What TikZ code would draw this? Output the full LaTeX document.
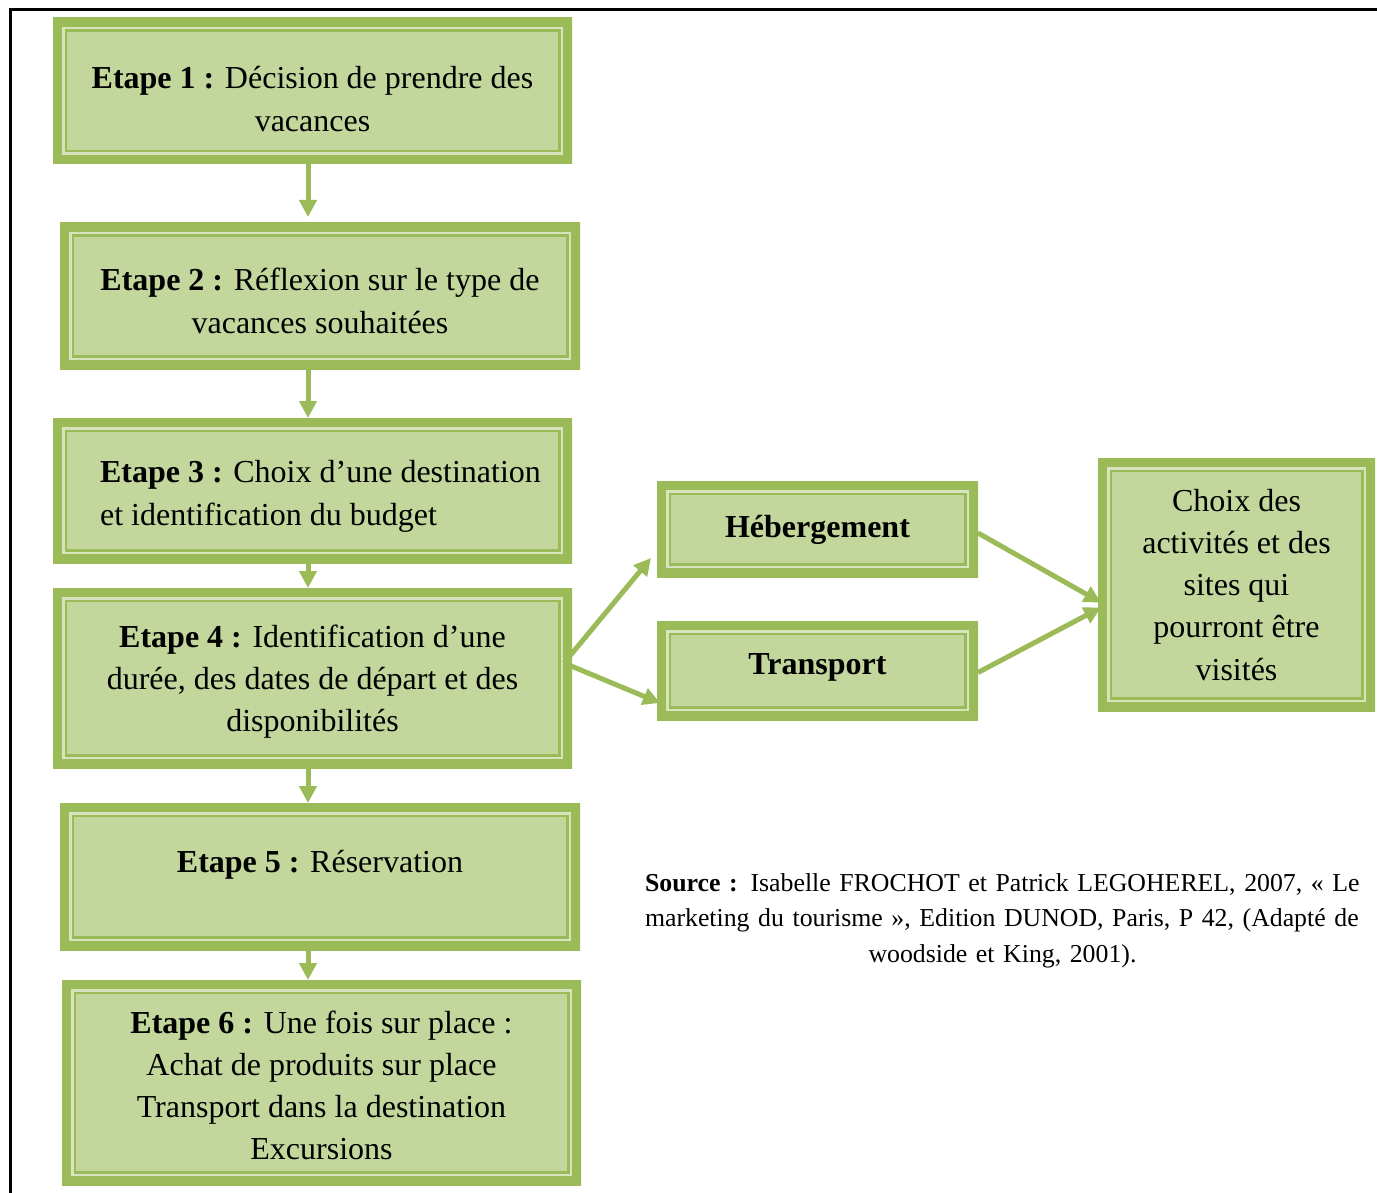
\documentclass[tikz,border=0pt]{standalone}
\usepackage{fontspec}
\setmainfont{Liberation Serif}
\usetikzlibrary{arrows.meta,calc}
\definecolor{boxdark}{HTML}{9BBB59}
\definecolor{boxfill}{HTML}{C3D69B}
\definecolor{boxlight}{HTML}{D7E4BD}
% #1 = offset of first baseline below node centre, #2 = column type, #3 = lines
\newcommand{\boxlines}[3]{\raisebox{-#1}[0pt][0pt]{\begin{tabular}[t]{@{}#2@{}}#3\end{tabular}}}
\tikzset{
  gbox/.style={fill=boxfill, draw=none, inner sep=0pt, outer sep=0pt,
    font=\fontsize{32}{42.3}\selectfont,
    path picture={
      \draw[boxdark, line width=18pt] (path picture bounding box.south west) rectangle (path picture bounding box.north east);
      \draw[boxlight, line width=2.5pt] ([shift={(10.25pt,10.25pt)}]path picture bounding box.south west) rectangle ([shift={(-10.25pt,-10.25pt)}]path picture bounding box.north east);
      \draw[boxdark, line width=2.5pt] ([shift={(12.75pt,12.75pt)}]path picture bounding box.south west) rectangle ([shift={(-12.75pt,-12.75pt)}]path picture bounding box.north east);
    }},
  garrow/.style={draw=boxdark, line width=5pt, -{Triangle[length=17pt,width=17pt]}},
}
\begin{document}
\begin{tikzpicture}[x=1pt,y=-1pt]
\useasboundingbox (0,0) rectangle (1377,1193);
\draw[line width=3pt] (1395,10) -- (10,10) -- (10,1210);

\node[gbox, minimum width=519pt, minimum height=146pt] (b1) at (312.5,91)
  {\boxlines{-2.2pt}{c}{\textbf{Etape 1 :} Décision de prendre des\\vacances}};
\node[gbox, minimum width=520pt, minimum height=146pt] (b2) at (320,296)
  {\boxlines{-5.2pt}{c}{\textbf{Etape 2 :} Réflexion sur le type de\\vacances souhaitées}};
\node[gbox, minimum width=519pt, minimum height=145pt] (b3) at (312.5,490.5)
  {\kern16pt\boxlines{-7.7pt}{l}{\textbf{Etape 3 :} Choix d’une destination\\et identification du budget}};
\node[gbox, minimum width=519pt, minimum height=180pt] (b4) at (312.5,678)
  {\boxlines{-30.8pt}{c}{\textbf{Etape 4 :} Identification d’une\\durée, des dates de départ et des\\disponibilités}};
\node[gbox, minimum width=520pt, minimum height=147pt] (b5) at (320,876.5)
  {\boxlines{-4.5pt}{c}{\textbf{Etape 5 :} Réservation}};
\node[gbox, minimum width=519pt, minimum height=205pt] (b6) at (321.5,1082.5)
  {\boxlines{-49.5pt}{c}{\textbf{Etape 6 :} Une fois sur place :\\Achat de produits sur place\\Transport dans la destination\\Excursions}};
\node[gbox, minimum width=321pt, minimum height=96pt] (heb) at (817.5,529)
  {\boxlines{8.5pt}{c}{\textbf{Hébergement}}};
\node[gbox, minimum width=321pt, minimum height=99pt] (tra) at (817.5,670.5)
  {\boxlines{4.2pt}{c}{\textbf{Transport}}};
\node[gbox, minimum width=277pt, minimum height=253pt] (choix) at (1236.5,584.5)
  {\boxlines{-73.5pt}{c}{Choix des\\activités et des\\sites qui\\pourront être\\visités}};

\node[anchor=north, inner sep=0pt, align=center, text width=715pt,
  font=\fontsize{25.8}{35.5}\selectfont] (src) at (1002.5,873)
  {\makebox[715pt][s]{\textbf{Source :} Isabelle FROCHOT et Patrick LEGOHEREL, 2007, « Le}\\
   \makebox[715pt][s]{marketing du tourisme », Edition DUNOD, Paris, P 42, (Adapté de}\\
   woodside et King, 2001).};

\coordinate (ax) at (308,0);
\draw[garrow, shorten >=6pt] (b1.south -| ax) -- (b2.north -| ax);
\draw[garrow] (b2.south -| ax) -- (b3.north -| ax);
\draw[garrow] (b3.south -| ax) -- (b4.north -| ax);
\draw[garrow] (b4.south -| ax) -- (b5.north -| ax);
\draw[garrow] (b5.south -| ax) -- (b6.north -| ax);

\coordinate (b4out) at ([xshift=-8pt,yshift=15pt]b4.east);
\draw[garrow] (b4out) -- ([xshift=-6pt,yshift=19pt]heb.south west);
\draw[garrow] (b4out) -- ([xshift=3pt,yshift=17pt]tra.south west);
\draw[garrow] ([yshift=-4pt]heb.east) -- ([xshift=3pt,yshift=-18pt]choix.west);
\draw[garrow] ([yshift=-2pt]tra.east) -- ([xshift=3pt,yshift=-23pt]choix.west);
\end{tikzpicture}
\end{document}
